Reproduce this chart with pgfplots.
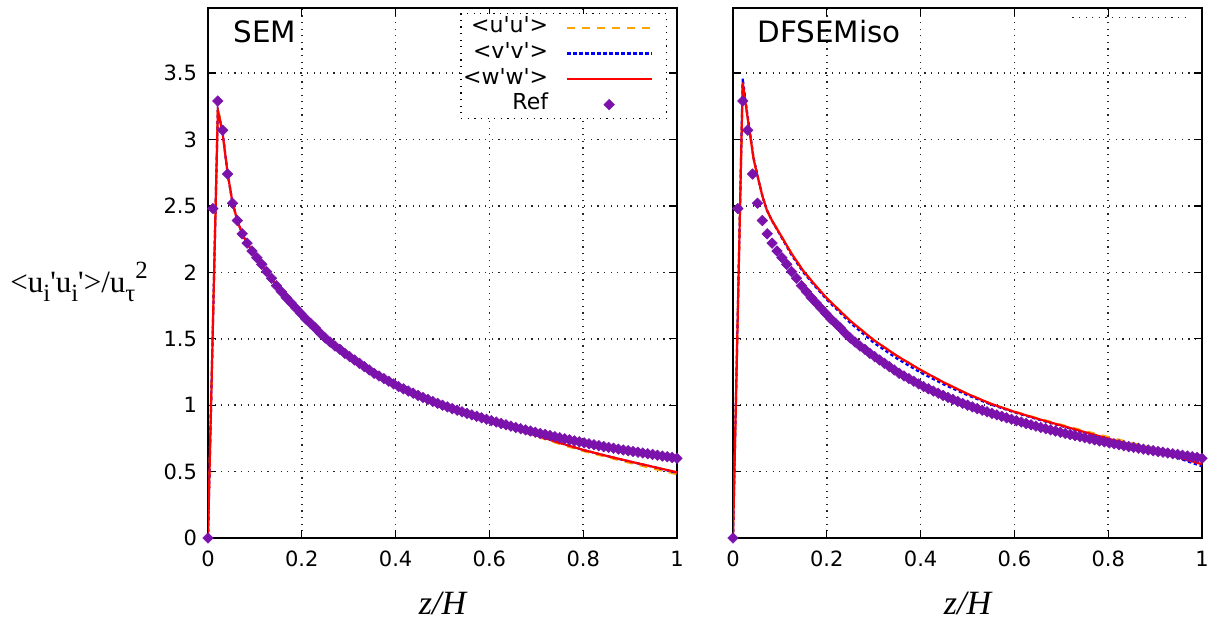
\documentclass[border=0pt]{standalone}
\usepackage{fontspec}
\setmainfont{DejaVu Sans}[Ligatures=TeXOff]
\newfontfamily\serif{Liberation Serif}[Ligatures=TeXOff]
\usepackage{pgfplots}
\pgfplotsset{compat=1.18}
\usepackage{pgfplotstable}

\definecolor{cu}{RGB}{255,165,0}
\definecolor{cv}{RGB}{0,0,255}
\definecolor{cw}{RGB}{255,0,0}
\definecolor{cref}{RGB}{124,18,172}

\newcommand{\sbs}[1]{\raisebox{-0.3em}{\fontsize{12.4}{12.4}\selectfont #1}}
\newcommand{\sps}[1]{\raisebox{0.45em}{\fontsize{12.4}{12.4}\selectfont #1}}

\pgfplotstableread{
x y
0 0
0.0104 2.48
0.0208 3.29
0.0313 3.07
0.0417 2.74
0.0521 2.52
0.0625 2.39
0.0729 2.29
0.0833 2.22
0.0938 2.16
0.1042 2.11
0.1146 2.06
0.125 2.005
0.1354 1.955
0.1458 1.90
0.1563 1.855
0.1667 1.81
0.1771 1.77
0.1875 1.73
0.1979 1.69
0.2083 1.65
0.2188 1.615
0.2292 1.58
0.2396 1.54
0.25 1.505
0.2604 1.475
0.2708 1.445
0.2813 1.42
0.2917 1.39
0.3021 1.365
0.3125 1.34
0.3229 1.315
0.3333 1.29
0.3438 1.265
0.3542 1.24
0.3646 1.22
0.375 1.20
0.3854 1.18
0.3958 1.16
0.4063 1.14
0.4167 1.123
0.4271 1.106
0.4375 1.09
0.4479 1.073
0.4583 1.058
0.4688 1.043
0.4792 1.028
0.4896 1.014
0.5 1.00
0.5104 0.987
0.5208 0.974
0.5313 0.962
0.5417 0.95
0.5521 0.938
0.5625 0.927
0.5729 0.916
0.5833 0.905
0.5938 0.894
0.6042 0.883
0.6146 0.873
0.625 0.862
0.6354 0.852
0.6458 0.842
0.6563 0.832
0.6667 0.823
0.6771 0.814
0.6875 0.805
0.6979 0.796
0.7083 0.787
0.7188 0.779
0.7292 0.771
0.7396 0.763
0.75 0.755
0.7604 0.747
0.7708 0.739
0.7813 0.731
0.7917 0.724
0.8021 0.716
0.8125 0.709
0.8229 0.702
0.8333 0.695
0.8438 0.688
0.8542 0.682
0.8646 0.676
0.875 0.669
0.8854 0.663
0.8958 0.657
0.9063 0.651
0.9167 0.646
0.9271 0.640
0.9375 0.634
0.9479 0.629
0.9583 0.623
0.9688 0.617
0.9792 0.612
0.9896 0.606
1 0.600
}\refdata

\pgfplotstableread{
x uu vv ww
0 0 0 0
0.021 3.24 3.22 3.22
0.031 3.06 3.06 3.05
0.042 2.75 2.74 2.74
0.052 2.53 2.53 2.53
0.0625 2.40 2.39 2.39
0.073 2.30 2.29 2.29
0.083 2.22 2.22 2.22
0.1 2.13 2.13 2.13
0.125 2.005 2.005 2.0
0.15 1.88 1.885 1.88
0.175 1.775 1.78 1.775
0.2 1.675 1.68 1.675
0.25 1.505 1.51 1.505
0.3 1.37 1.375 1.37
0.35 1.25 1.255 1.25
0.4 1.15 1.155 1.15
0.45 1.07 1.07 1.07
0.5 1.0 1.0 0.998
0.55 0.935 0.94 0.937
0.6 0.877 0.883 0.88
0.65 0.822 0.83 0.828
0.7 0.765 0.773 0.772
0.75 0.708 0.717 0.716
0.8 0.655 0.663 0.663
0.85 0.61 0.618 0.618
0.9 0.565 0.575 0.576
0.95 0.522 0.535 0.535
1.0 0.48 0.49 0.495
}\semdata

\pgfplotstableread{
x uu vv ww
0 0 0 0
0.0207 3.43 3.46 3.43
0.026 3.29 3.31 3.29
0.035 3.07 3.08 3.07
0.044 2.85 2.86 2.85
0.054 2.70 2.70 2.70
0.063 2.57 2.57 2.57
0.072 2.47 2.47 2.47
0.083 2.39 2.39 2.39
0.1 2.29 2.285 2.29
0.125 2.14 2.13 2.14
0.15 2.01 2.0 2.01
0.175 1.905 1.895 1.905
0.2 1.805 1.795 1.805
0.25 1.635 1.62 1.635
0.3 1.49 1.47 1.49
0.35 1.37 1.35 1.37
0.4 1.265 1.245 1.265
0.45 1.17 1.155 1.17
0.5 1.085 1.075 1.085
0.55 1.01 1.005 1.01
0.6 0.952 0.946 0.95
0.65 0.90 0.893 0.897
0.7 0.852 0.843 0.847
0.75 0.805 0.793 0.797
0.8 0.76 0.745 0.748
0.85 0.715 0.698 0.70
0.9 0.672 0.652 0.655
0.95 0.625 0.60 0.608
1.0 0.57 0.54 0.555
}\dfsdata

\pgfplotsset{
  every axis y label/.style={at={(rel axis cs:0,0.483)}, anchor=west, xshift=-99pt, inner sep=0pt},
  myaxis/.style={
    scale only axis, width=234.5pt, height=265pt,
    xmin=0, xmax=1, ymin=0, ymax=3.99,
    xtick={0,0.2,0.4,0.6,0.8,1}, ytick={0,0.5,1,1.5,2,2.5,3,3.5},
    grid=major,
    major grid style={black!85, line width=0.75pt, dash pattern=on 0.6pt off 2.7pt},
    tick align=inside, major tick length=4pt,
    tick style={black, line width=0.6pt},
    axis line style={line width=0.6pt},
    ticklabel style={font=\fontsize{10.5}{12}\selectfont},
    /pgf/number format/assume math mode=true,
    xticklabel style={yshift=-3pt},
    yticklabel style={xshift=-2pt},
    xlabel={\serif\itshape z/H},
    xlabel style={font=\fontsize{17}{19}\selectfont, at={(rel axis cs:0.5,0)}, anchor=base, yshift=-38pt},
    every axis plot/.append style={line width=1.1pt},
  },
  lineleg/.style={legend image code/.code={\draw[##1] (0pt,0pt) -- (42.5pt,0pt); \path (48pt,0pt);}},
  markleg/.style={legend image code/.code={\draw[##1] plot coordinates {(21pt,0pt)}; \path (0pt,0pt) (48pt,0pt);}},
}

\begin{document}
\begin{tikzpicture}
\useasboundingbox (0,0) rectangle (604pt,313pt);
\begin{axis}[myaxis, at={(104pt,44pt)}, anchor=south west,
  ylabel={\serif\fontsize{15.5}{17}\selectfont <u\sbs{i}'u\sbs{i}'>/u\sbs{τ}\sps{2}},
  legend plot pos=right,
  legend cell align=right,
  legend style={at={(rel axis cs:0.9787,0.9906)}, anchor=north east,
    draw=black, line width=0.75pt, dash pattern=on 0.6pt off 2.7pt, fill=white,
    font=\fontsize{11}{12}\selectfont, column sep=9pt, row sep=0.3pt,
    inner xsep=1pt, inner ysep=0.8pt,
    nodes={inner sep=0pt, text height=8.8pt, text depth=3.7pt, solid}},
]
\addplot[cu, dash pattern=on 4pt off 3.5pt, lineleg] table[x=x,y=uu]{\semdata};
\addlegendentry{<u'u'>}
\addplot[cv, dash pattern=on 1.7pt off 1.3pt, lineleg] table[x=x,y=vv]{\semdata};
\addlegendentry{<v'v'>}
\addplot[cw, solid, lineleg] table[x=x,y=ww]{\semdata};
\addlegendentry{<w'w'>}
\addplot[only marks, mark=square*, mark size=1.85pt, color=cref,
  mark options={rotate=45, solid, line width=0.3pt, fill=cref}, markleg] table[x=x,y=y]{\refdata};
\addlegendentry{Ref}
\node[anchor=base west, inner sep=0pt, font=\fontsize{14.7}{16}\selectfont] at (rel axis cs:0.0533,0.934) {SEM};
\end{axis}

\begin{axis}[myaxis, at={(366.5pt,44pt)}, anchor=south west, yticklabels={}]
\addplot[cu, dash pattern=on 4pt off 3.5pt] table[x=x,y=uu]{\dfsdata};
\addplot[cv, dash pattern=on 1.7pt off 1.3pt] table[x=x,y=vv]{\dfsdata};
\addplot[cw, solid] table[x=x,y=ww]{\dfsdata};
\addplot[only marks, mark=square*, mark size=1.85pt, color=cref,
  mark options={rotate=45, solid, line width=0.3pt, fill=cref}] table[x=x,y=y]{\refdata};
\node[anchor=base west, inner sep=0pt, font=\fontsize{14.7}{16}\selectfont] at (rel axis cs:0.0513,0.934) {DFSEMiso};
\draw[black!85, line width=0.75pt, dash pattern=on 0.6pt off 2.7pt] (rel axis cs:0.7237,0.9825) -- (rel axis cs:0.973,0.9825);
\end{axis}
\end{tikzpicture}
\end{document}
